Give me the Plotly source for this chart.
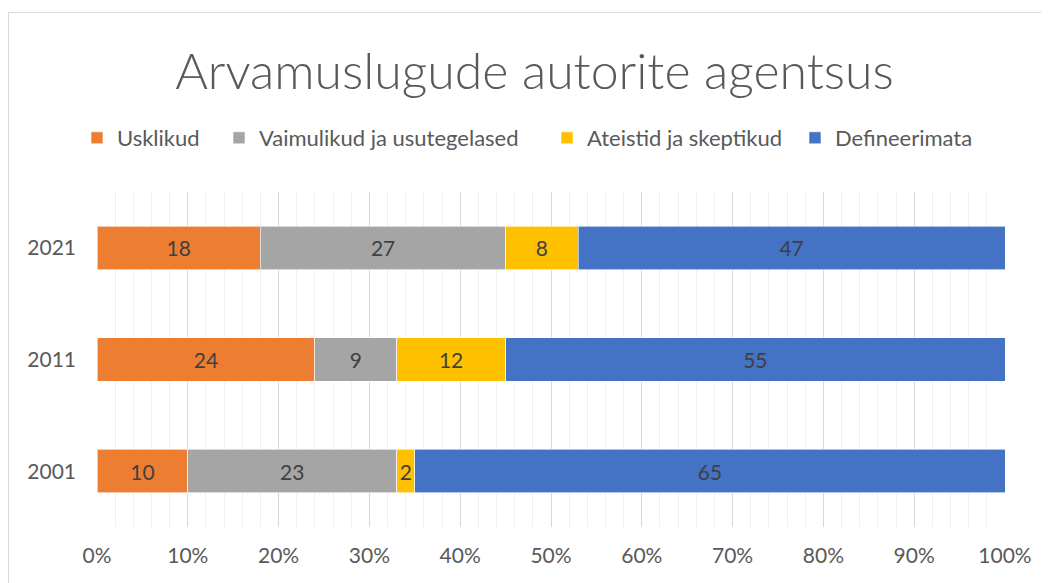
import plotly.graph_objects as go

aastad = ['2001', '2011', '2021']
usklikud = [10, 24, 18]
vaimulikud = [23, 9, 27]
ateistid = [2, 12, 8]
defineerimata = [65, 55, 47]

nimed = ['Usklikud', 'Vaimulikud ja usutegelased', 'Ateistid ja skeptikud', 'Defineerimata']
varvid = ['#ED7D31', '#A5A5A5', '#FFC000', '#4472C4']

# lehel on body margin 8px, seega joonis on 8px vaiksem
W, H = 1041, 575
L, R, T, B = 89, 44, 184, 56
pw, ph = W - L - R, H - T - B

legendid = ['legend', 'legend2', 'legend3', 'legend4']
teksti_algus = [112, 254, 582, 830]

fig = go.Figure()
for nimi, vaartused, varv, lg in zip(nimed, [usklikud, vaimulikud, ateistid, defineerimata], varvid, legendid):
    fig.add_trace(go.Bar(
        name=nimi, y=aastad, x=vaartused, orientation='h', legend=lg,
        marker=dict(color=varv, line=dict(color='rgba(255,255,255,0.6)', width=1)),
        text=vaartused, textposition='inside', insidetextanchor='middle',
        textfont=dict(color='#404040', size=21), width=0.39,
    ))

leg_y = 1 + (T - 130) / ph
leg_stiil = dict(orientation='h', xanchor='left', y=leg_y, yanchor='middle',
                 font=dict(size=22, color='#595959'), itemwidth=30, bgcolor='rgba(0,0,0,0)')
for lg, tx in zip(legendid, teksti_algus):
    fig.update_layout({lg: dict(x=(tx - 43 - L) / pw, **leg_stiil)})

fig.update_layout(
    barmode='stack',
    width=W, height=H,
    margin=dict(l=L, r=R, t=T, b=B),
    paper_bgcolor='white', plot_bgcolor='white',
    font=dict(family='Lato, Carlito, Arial', color='#595959', size=21),
    title=dict(text='Arvamuslugude autorite agentsus', x=526.5 / W, xref='container', xanchor='center',
               y=1 - 63 / H, yanchor='middle', yref='container',
               font=dict(size=50, color='#595959', weight=300)),
    showlegend=True,
    uniformtext=dict(mode='show', minsize=10),
)
fig.update_xaxes(range=[0, 100], dtick=10, ticksuffix='%', showgrid=True, gridcolor='#D9D9D9', gridwidth=1,
                 minor=dict(dtick=2, showgrid=True, gridcolor='#F0F0F0', gridwidth=1),
                 zeroline=False, showline=False, ticklabelstandoff=14, fixedrange=True)
fig.update_yaxes(showgrid=False, ticklabelstandoff=20, showline=False, categoryorder='array', categoryarray=aastad)

# diagrammi raam
fig.add_shape(type='rect', xref='paper', yref='paper',
              x0=(0.5 - L) / pw, x1=(W + 20 - L) / pw, y0=-(B + 30) / ph, y1=1 + (T - 4.5) / ph,
              line=dict(color='#D9D9D9', width=1), fillcolor='rgba(0,0,0,0)', layer='below')

fig.write_html('out.html')
